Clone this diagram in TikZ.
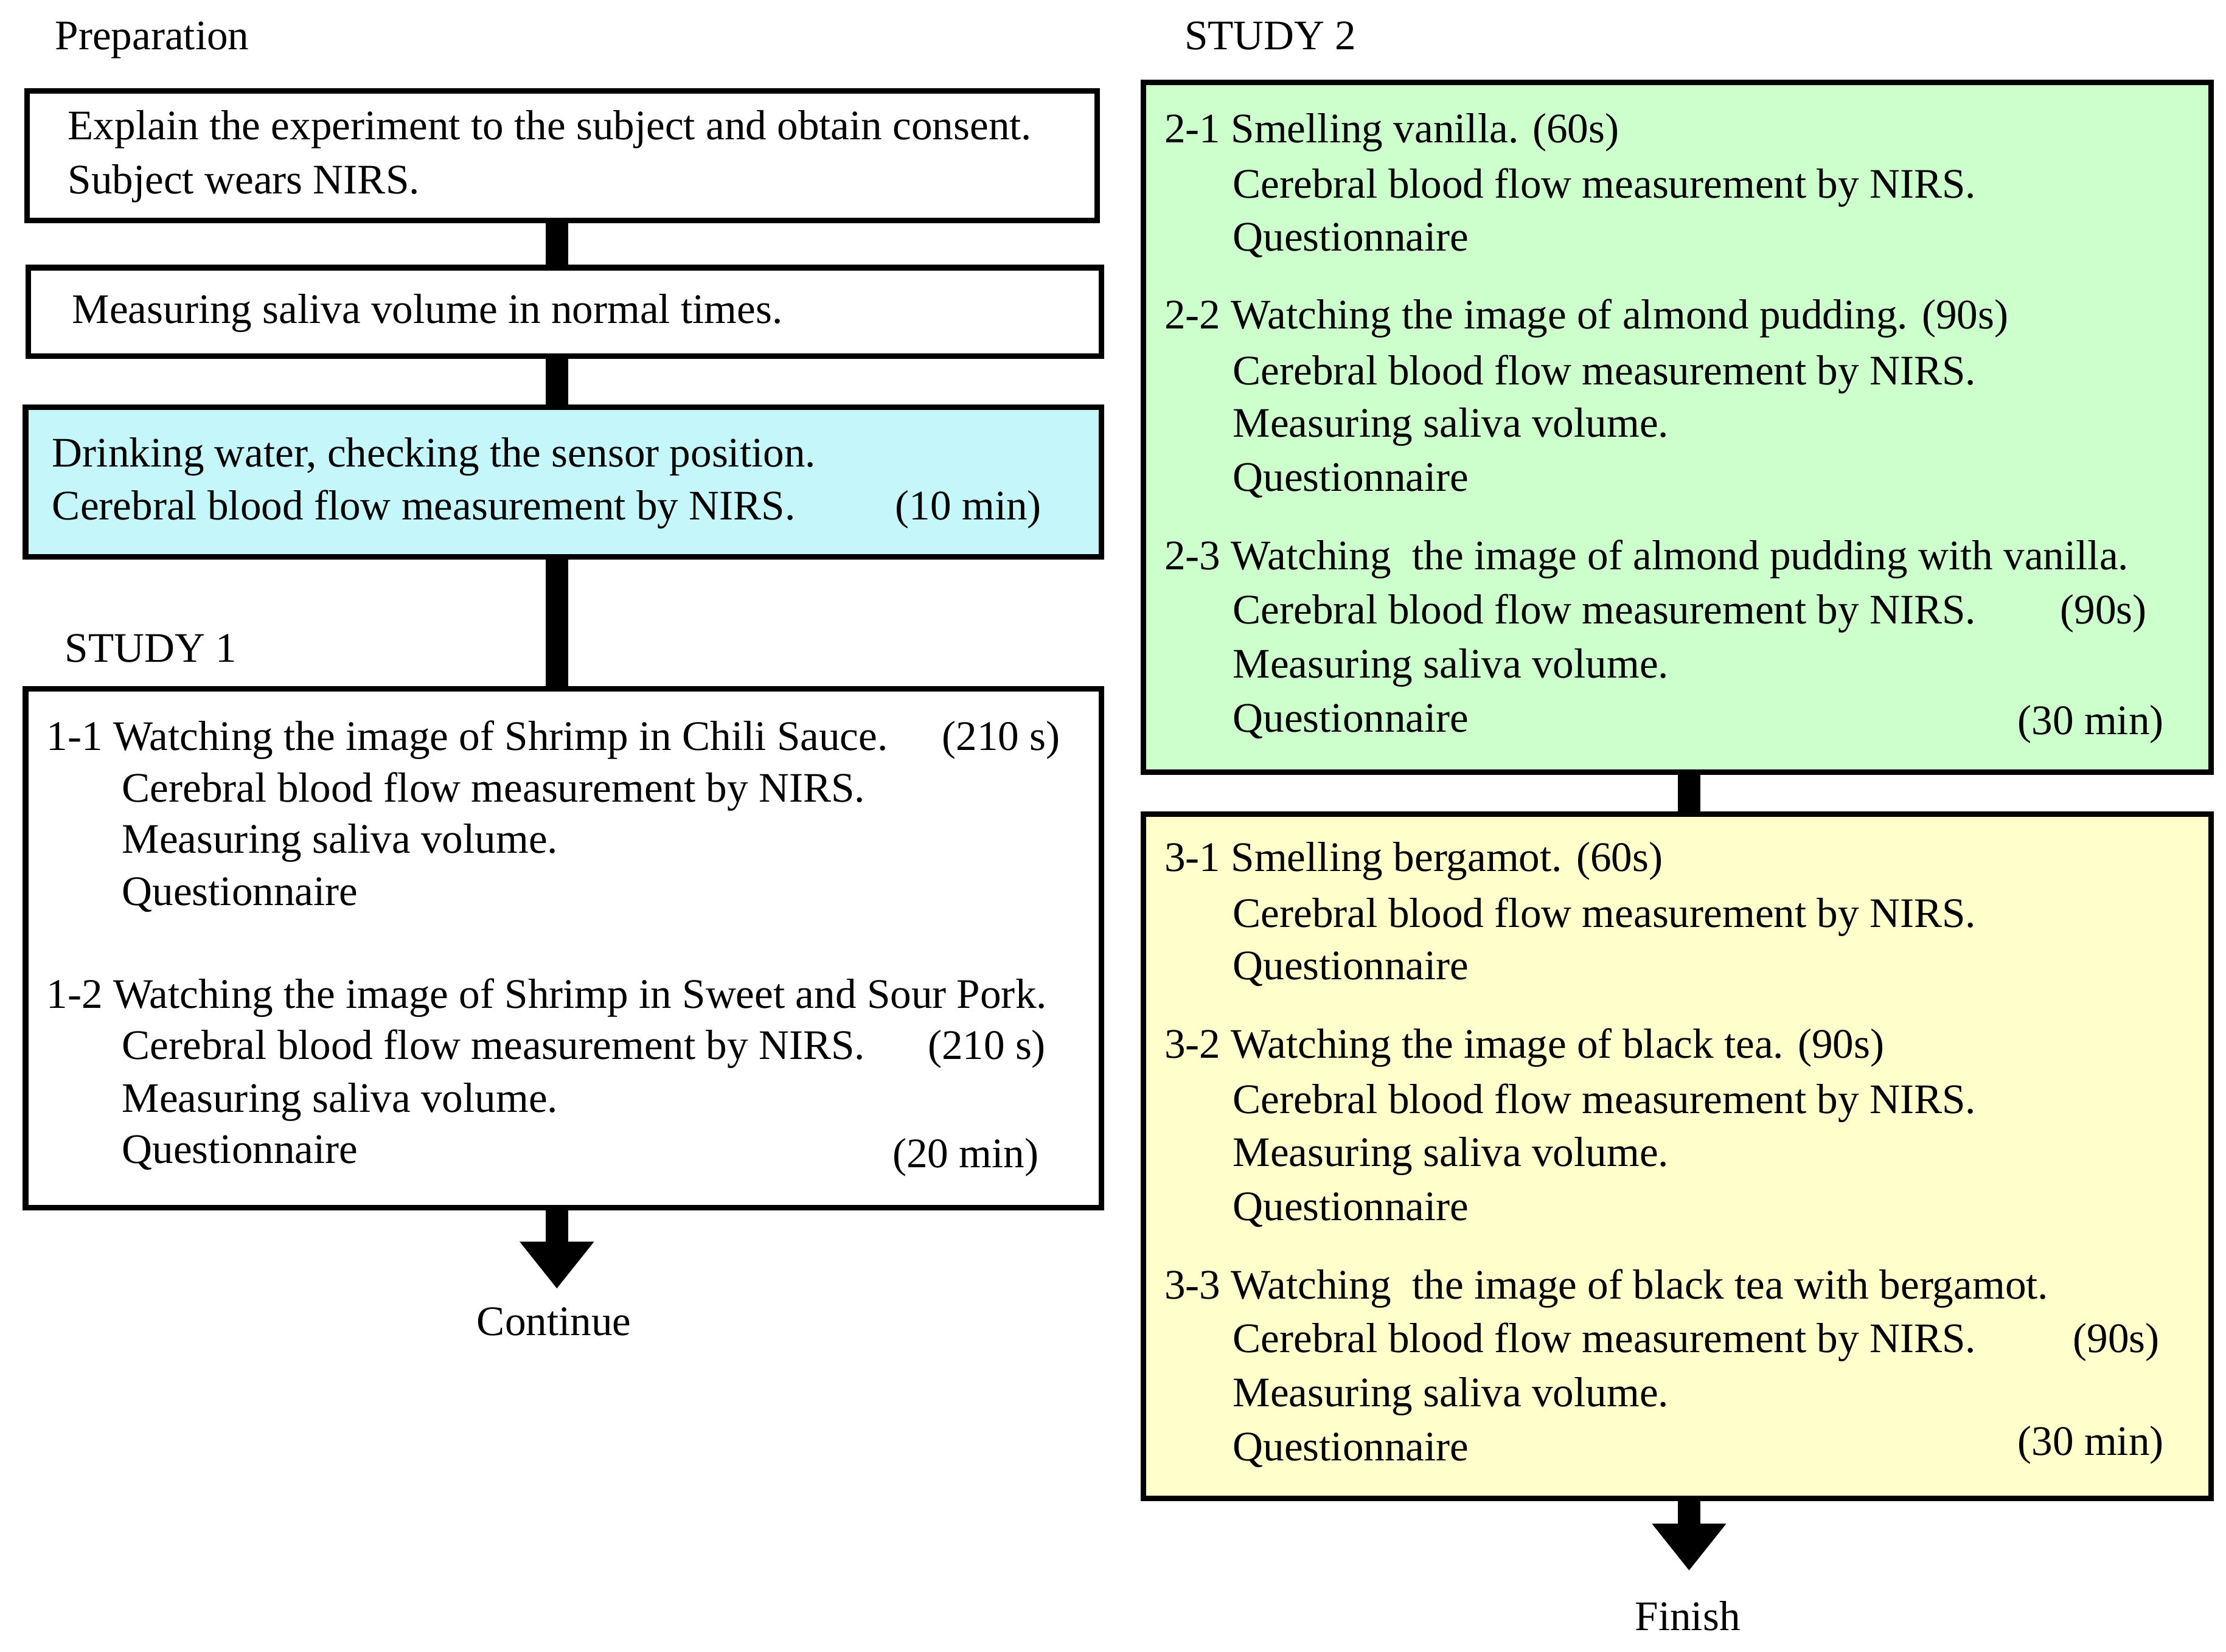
\documentclass[tikz,border=0pt]{standalone}
\usepackage{fontspec}
\setmainfont{Liberation Serif}
\usetikzlibrary{arrows.meta}
\definecolor{cy}{HTML}{C4F6FA}
\definecolor{gr}{HTML}{CCFFCC}
\definecolor{ye}{HTML}{FFFFCC}
\begin{document}
\begin{tikzpicture}[x=0.01cm,y=-0.01cm,
  box/.style={draw,line width=1.1pt,inner sep=0,anchor=north west},
  t/.style={anchor=base west,inner sep=0,font=\fontsize{8.4}{10}\selectfont},
  r/.style={anchor=base east,inner sep=0,font=\fontsize{8.4}{10}\selectfont},
  c/.style={anchor=base,inner sep=0,font=\fontsize{8.4}{10}\selectfont},
  conn/.style={line width=0.16cm},
  arr/.style={line width=0.16cm,-{Triangle[width=0.5cm,length=0.33cm]}}]
\useasboundingbox (0,0) rectangle (1563,1160);
% boxes
\node[box,minimum width=7.51cm,minimum height=0.91cm] (b1) at (17,62) {};
\node[box,minimum width=7.53cm,minimum height=0.62cm] (b2) at (18,186) {};
\node[box,fill=cy,minimum width=7.55cm,minimum height=1.05cm] (b3) at (16,284) {};
\node[box,minimum width=7.55cm,minimum height=3.64cm] (b4) at (16,482) {};
\node[box,fill=gr,minimum width=7.49cm,minimum height=4.84cm] (g) at (801,56) {};
\node[box,fill=ye,minimum width=7.49cm,minimum height=4.80cm] (y) at (801,570) {};
\coordinate (cont) at (391,905);
\coordinate (fin) at (1186,1103);
\draw[conn] (b1.south -| 391,0) -- (b2.north -| 391,0);
\draw[conn] (b2.south -| 391,0) -- (b3.north -| 391,0);
\draw[conn] (b3.south -| 391,0) -- (b4.north -| 391,0);
\draw[arr] (b4.south -| 391,0) -- (cont);
\draw[conn] (g.south -| 1186,0) -- (y.north -| 1186,0);
\draw[arr] (y.south -| 1186,0) -- (fin);
% left texts
\node[t] (p0) at (38,35) {Preparation};
\node[t] (p1) at (47,98) {Explain the experiment to the subject and obtain consent.};
\node[t] (p2) at (47,136) {Subject wears NIRS.};
\node[t] (p3) at (50,227) {Measuring saliva volume in normal times.};
\node[t] (p4) at (36,328) {Drinking water, checking the sensor position.};
\node[t] (p5) at (36,365) {Cerebral blood flow measurement by NIRS.};
\node[r] (p6) at (732,365) {(10 min)};
\node[t] (s1) at (45,465) {STUDY 1};
\node[t] (a1) at (32,527) {1-1 Watching the image of Shrimp in Chili Sauce.};
\node[r] (a1r) at (745,527) {(210 s)};
\node[t] (a2) at (85,563) {Cerebral blood flow measurement by NIRS.};
\node[t] (a3) at (85,599) {Measuring saliva volume.};
\node[t] (a4) at (85,636) {Questionnaire};
\node[t] (a5) at (32,708) {1-2 Watching the image of Shrimp in Sweet and Sour Pork.};
\node[t] (a6) at (85,744) {Cerebral blood flow measurement by NIRS.};
\node[r] (a6r) at (735,744) {(210 s)};
\node[t] (a7) at (85,781) {Measuring saliva volume.};
\node[t] (a8) at (85,817) {Questionnaire};
\node[r] (a9) at (730,820) {(20 min)};
\node[c] (cn) at (389,938) {Continue};
% study 2
\node[t] (s2) at (831,35) {STUDY 2};
\node[t] (g1) at (817,100) {2-1 Smelling vanilla. (60s)};
\node[t] (g2) at (865,139) {Cerebral blood flow measurement by NIRS.};
\node[t] (g3) at (865,176) {Questionnaire};
\node[t] (g4) at (817,231) {2-2 Watching the image of almond pudding. (90s)};
\node[t] (g5) at (865,270) {Cerebral blood flow measurement by NIRS.};
\node[t] (g6) at (865,307) {Measuring saliva volume.};
\node[t] (g7) at (865,345) {Questionnaire};
\node[t] (g8) at (817,400) {2-3 Watching\ \ the image of almond pudding with vanilla.};
\node[t] (g9) at (865,438) {Cerebral blood flow measurement by NIRS.};
\node[r] (g9r) at (1508,438) {(90s)};
\node[t] (g10) at (865,476) {Measuring saliva volume.};
\node[t] (g11) at (865,514) {Questionnaire};
\node[r] (g12) at (1520,516) {(30 min)};
% study 3
\node[t] (y1) at (817,612) {3-1 Smelling bergamot. (60s)};
\node[t] (y2) at (865,651) {Cerebral blood flow measurement by NIRS.};
\node[t] (y3) at (865,688) {Questionnaire};
\node[t] (y4) at (817,743) {3-2 Watching the image of black tea. (90s)};
\node[t] (y5) at (865,782) {Cerebral blood flow measurement by NIRS.};
\node[t] (y6) at (865,819) {Measuring saliva volume.};
\node[t] (y7) at (865,857) {Questionnaire};
\node[t] (y8) at (817,912) {3-3 Watching\ \ the image of black tea with bergamot.};
\node[t] (y9) at (865,950) {Cerebral blood flow measurement by NIRS.};
\node[r] (y9r) at (1517,950) {(90s)};
\node[t] (y10) at (865,988) {Measuring saliva volume.};
\node[t] (y11) at (865,1026) {Questionnaire};
\node[r] (y12) at (1520,1022) {(30 min)};
\node[c] (fn) at (1185,1145) {Finish};
\end{tikzpicture}
\end{document}
